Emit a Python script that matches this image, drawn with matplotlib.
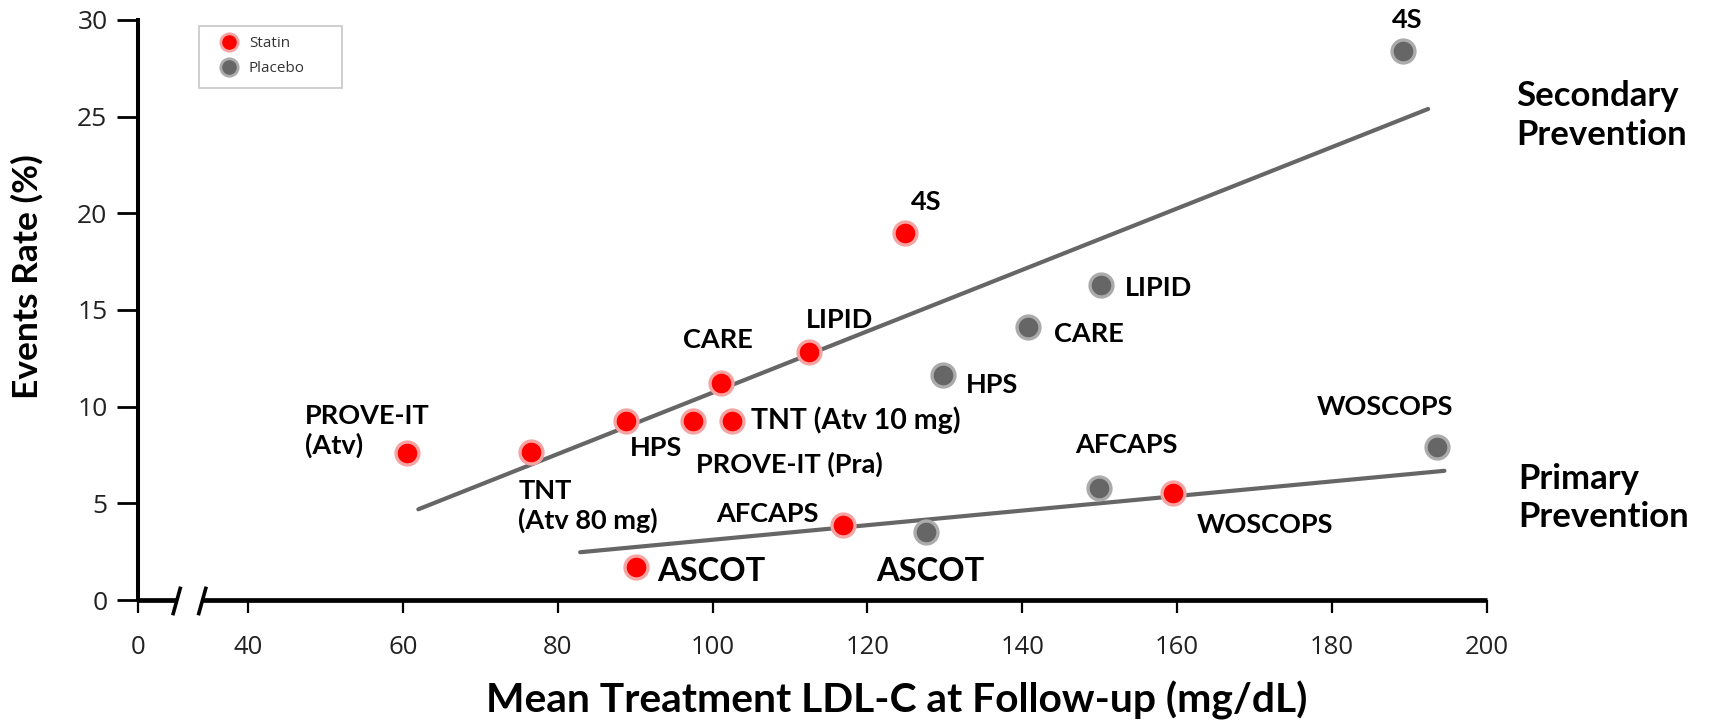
import matplotlib
matplotlib.use("Agg")
import matplotlib.pyplot as plt
from matplotlib.lines import Line2D
from matplotlib.patches import Rectangle

# ---------------- data ----------------
statin_names = ["PROVE-IT (Atv)", "TNT (Atv 80 mg)", "HPS", "PROVE-IT (Pra)", "TNT (Atv 10 mg)",
                "CARE", "LIPID", "4S", "AFCAPS", "ASCOT", "WOSCOPS"]
statin_ldl = [60.6, 76.5, 88.8, 97.5, 102.5, 101.1, 112.4, 124.8, 116.8, 90.1, 159.4]
statin_rate = [7.59, 7.65, 9.24, 9.24, 9.24, 11.23, 12.82, 18.97, 3.89, 1.73, 5.54]

placebo_names = ["4S", "LIPID", "CARE", "HPS", "AFCAPS", "WOSCOPS", "ASCOT"]
placebo_ldl = [189.1, 150.2, 140.7, 129.7, 149.9, 193.5, 127.5]
placebo_rate = [28.4, 16.29, 14.13, 11.63, 5.77, 7.93, 3.50]

secondary_line_x = [62.0, 192.4]
secondary_line_y = [4.69, 25.39]
primary_line_x = [82.9, 194.5]
primary_line_y = [2.47, 6.68]

x_tick_values = [25.8, 40, 60, 80, 100, 120, 140, 160, 180, 200]
x_tick_labels = ["0", "40", "60", "80", "100", "120", "140", "160", "180", "200"]
y_tick_values = [0, 5, 10, 15, 20, 25, 30]
break_x = [30.8, 34.1]

# label texts and anchor positions (left-aligned)
statin_labels = ["PROVE-IT\n(Atv)", "TNT\n(Atv 80 mg)", "HPS", "PROVE-IT (Pra)", "TNT (Atv 10 mg)",
                 "CARE", "LIPID", "4S", "AFCAPS", "ASCOT", "WOSCOPS"]
statin_label_x = [47.4, 74.9, 89.3, 97.8, 105.0, 96.2, 112.1, 125.6, 100.5, 92.8, 162.5]
statin_label_y = [8.73, 4.86, 7.87, 7.02, 9.30, 13.45, 14.47, 20.56, 4.46, 1.45, 3.89]
statin_label_size = [19.5, 19.5, 19.5, 19.5, 20.5, 19.5, 19.5, 19.5, 19.5, 23.5, 19.5]

placebo_labels = ["4S", "LIPID", "CARE", "HPS", "AFCAPS", "WOSCOPS", "ASCOT"]
placebo_label_x = [187.7, 153.3, 144.1, 132.7, 146.8, 178.0, 121.1]
placebo_label_y = [30.0, 16.12, 13.73, 11.12, 7.99, 9.98, 1.45]
placebo_label_size = [19.5, 19.5, 19.5, 19.5, 19.5, 19.5, 23.5]

RED = "#ff0000"
RED_EDGE = "#f5a3a3"
GRAY = "#666666"
GRAY_EDGE = "#ababab"

BOLD = ["Lato", "DejaVu Sans"]
REG = ["Open Sans", "DejaVu Sans"]

fig = plt.figure(figsize=(17.25, 7.2), dpi=100)
ax = fig.add_axes([138 / 1725, 120 / 720, (1487 - 138) / 1725, 580.2 / 720])
ax.set_xlim(25.8, 200)
ax.set_ylim(0, 30)

# regression lines
ax.plot(secondary_line_x, secondary_line_y, color=GRAY, lw=3.0, solid_capstyle="round", zorder=2)
ax.plot(primary_line_x, primary_line_y, color=GRAY, lw=3.0, solid_capstyle="round", zorder=2)

# points
ax.plot(statin_ldl, statin_rate, ls="none", marker="o", ms=16.5, mfc=RED, mec=RED_EDGE,
        mew=2.4, zorder=3, clip_on=False)
ax.plot(placebo_ldl, placebo_rate, ls="none", marker="o", ms=16.5, mfc=GRAY, mec=GRAY_EDGE,
        mew=2.4, zorder=3, clip_on=False)

for t, x, y, s in zip(statin_labels, statin_label_x, statin_label_y, statin_label_size):
    ax.text(x, y, t, ha="left", va="center", fontsize=s, fontweight="bold",
            family=BOLD, linespacing=1.2, color="black")
for t, x, y, s in zip(placebo_labels, placebo_label_x, placebo_label_y, placebo_label_size):
    ax.text(x, y, t, ha="left", va="center", fontsize=s, fontweight="bold",
            family=BOLD, color="black", clip_on=False)

fig.text(1515.8 / 1725, 0.8396, "Secondary\nPrevention", ha="left", va="center",
         fontsize=25, fontweight="bold", family=BOLD, linespacing=1.25)
fig.text(1518 / 1725, 0.308, "Primary\nPrevention", ha="left", va="center",
         fontsize=25, fontweight="bold", family=BOLD, linespacing=1.25)

# spines / axes
for s in ["top", "right", "bottom"]:
    ax.spines[s].set_visible(False)
ax.spines["left"].set_linewidth(2.9)
ax.spines["left"].set_color("black")

# broken x axis line
ax.plot([x_tick_values[0], break_x[0]], [0, 0], color="black", lw=3.4, clip_on=False,
        solid_capstyle="butt", zorder=4)
ax.plot([break_x[1], 200], [0, 0], color="black", lw=3.4, clip_on=False,
        solid_capstyle="butt", zorder=4)
for bx in break_x:
    ax.plot([bx - 0.45, bx + 0.45], [-0.7, 0.6], color="black", lw=2.6, clip_on=False, zorder=4)

ax.set_xticks(x_tick_values)
ax.set_xticklabels(x_tick_labels, family=REG, fontsize=18.5, color="#222222")
ax.tick_params(axis="x", direction="out", length=9, width=1.6, pad=16, colors="black",
               labelcolor="#222222")
ax.set_yticks(y_tick_values)
ax.set_yticklabels([str(v) for v in y_tick_values], family=REG, fontsize=19, color="#222222")
ax.tick_params(axis="y", direction="out", length=15, width=2.0, pad=7, colors="black",
               labelcolor="#222222")

ax.set_xlabel("Mean Treatment LDL-C at Follow-up (mg/dL)", fontsize=29.3, fontweight="bold",
              family=BOLD)
ax.xaxis.set_label_coords(0.5624, -0.1736)
ax.xaxis.label.set_va("center")
ax.set_ylabel("Events Rate (%)", fontsize=25.5, fontweight="bold", family=BOLD)
ax.yaxis.set_label_coords(-0.082, 0.557)
ax.yaxis.label.set_va("center")

# legend
handles = [
    Line2D([], [], ls="none", marker="o", ms=12.5, mfc=RED, mec=RED_EDGE, mew=2.0, label="Statin"),
    Line2D([], [], ls="none", marker="o", ms=12.5, mfc=GRAY, mec=GRAY_EDGE, mew=2.0, label="Placebo"),
]
leg = fig.legend(handles=handles, loc="upper left", bbox_to_anchor=(221.4 / 1725, 684 / 720),
                 borderaxespad=0, borderpad=0, frameon=False,
                 prop={"family": REG, "size": 11},
                 handlelength=1.0, handletextpad=0.8, labelspacing=0.65)
for t in leg.get_texts():
    t.set_color("#333333")
fig.patches.append(Rectangle((199 / 1725, (720 - 88) / 720), (342 - 199) / 1725, 62 / 720,
                             transform=fig.transFigure, fill=False, edgecolor="#cccccc",
                             linewidth=1.3, zorder=5))

fig.savefig("out.png", dpi=100)
